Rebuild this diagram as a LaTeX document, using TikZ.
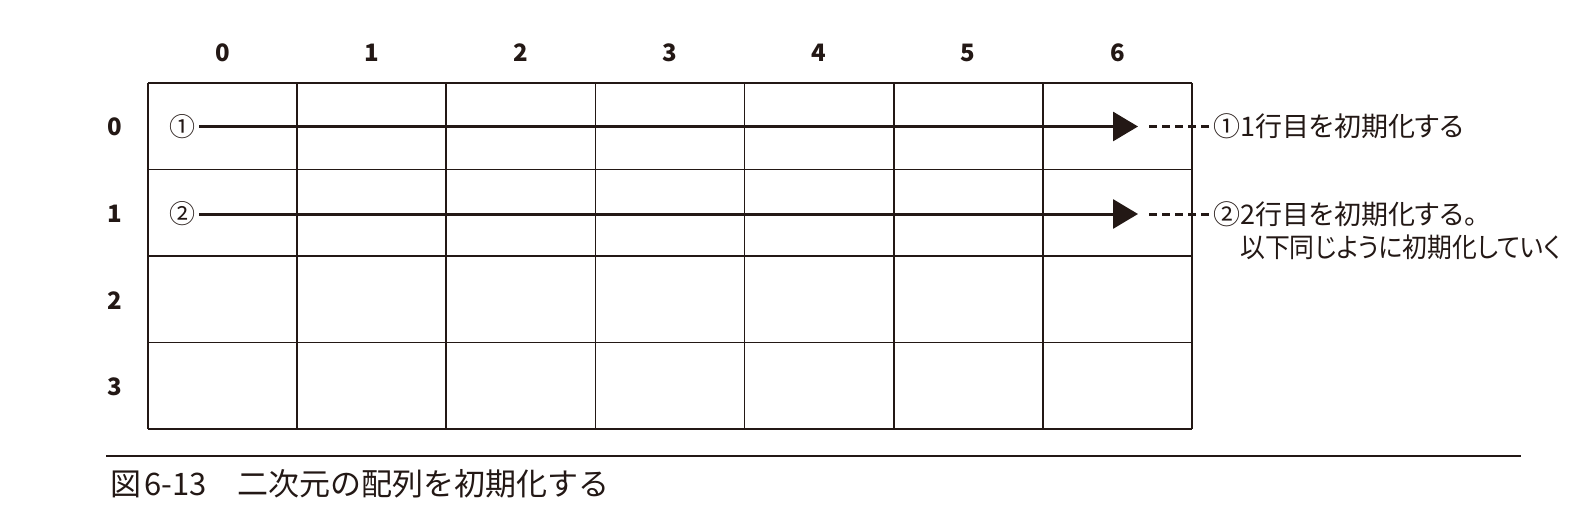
\documentclass[tikz,border=0pt]{standalone}
\usepackage{fontspec}
\usepackage{graphicx}
\setmainfont{Noto Sans CJK JP}
\newfontfamily\jp[RawFeature=+palt]{Noto Sans CJK JP}
\newfontfamily\jpcap{Noto Sans CJK JP}
\usetikzlibrary{arrows.meta}
\definecolor{ink}{HTML}{231815}
\begin{document}
\begin{tikzpicture}[x=1pt,y=-1pt,
  gridline/.style={draw=ink,line width=1.6pt},
  idx/.style={font=\fontsize{24}{24}\selectfont\bfseries,text=ink,inner sep=0pt},
  circ/.style={font=\jpcap\fontsize{26}{26}\selectfont,text=ink,inner sep=0pt},
  note/.style={font=\jp\fontsize{27}{27}\selectfont,text=ink,inner sep=0pt,anchor=west},
  arr/.style={draw=ink,line width=3pt,-{Triangle[length=25pt,width=29pt]}},
  dashline/.style={draw=ink,line width=3pt,dash pattern=on 8pt off 5pt},
  rule/.style={draw=ink,line width=1.8pt}]
\useasboundingbox (0,0) rectangle (1586,513);
% grid
\foreach \i in {0,...,7}{\draw[gridline] ({148+149.14*\i},83) -- ({148+149.14*\i},429);}
\foreach \j in {0,...,4}{\draw[gridline] (148,{83+86.5*\j}) -- (1192,{83+86.5*\j});}
% column labels
\foreach \i in {0,...,6}{\node[idx] (col\i) at ({148+149.14*(\i+0.5)},53) {\i};}
% row labels
\foreach \j in {0,...,3}{\node[idx] (row\j) at (115,{83+86.5*(\j+0.5)+1}) {\j};}
% circled numbers
\node[circ] (c1) at (182,126.5) {①};
\node[circ] (c2) at (182,214) {②};
% arrow tips and dash starts
\coordinate (tip1) at (1138,126.5);
\coordinate (tip2) at (1138,214);
\coordinate (d1) at (1149,126.5);
\coordinate (d2) at (1149,214);
\draw[arr,shorten <=4pt] (c1.east) -- (tip1);
\draw[arr,shorten <=4pt] (c2.east) -- (tip2);
% notes
\node[note] (t1) at (1213,126.5) {①1行目を初期化する};
\node[note] (t2) at (1213,214) {②2行目を初期化する。};
\node[note] (t2b) at (1240,247) {\scalebox{0.92}[1]{以下同じように初期化していく}};
\draw[dashline] (d1) -- (t1.west);
\draw[dashline] (d2) -- (t2.west);
% caption rule and caption
\coordinate (r1) at (106,456);
\coordinate (r2) at (1521,456);
\draw[rule] (r1) -- (r2);
\node[font=\jpcap\fontsize{31}{31}\selectfont,text=ink,inner sep=0pt,anchor=west] (cap) at (110,484) {図\hspace{3pt}6-13　二次元の配列を初期化する};
\end{tikzpicture}
\end{document}
